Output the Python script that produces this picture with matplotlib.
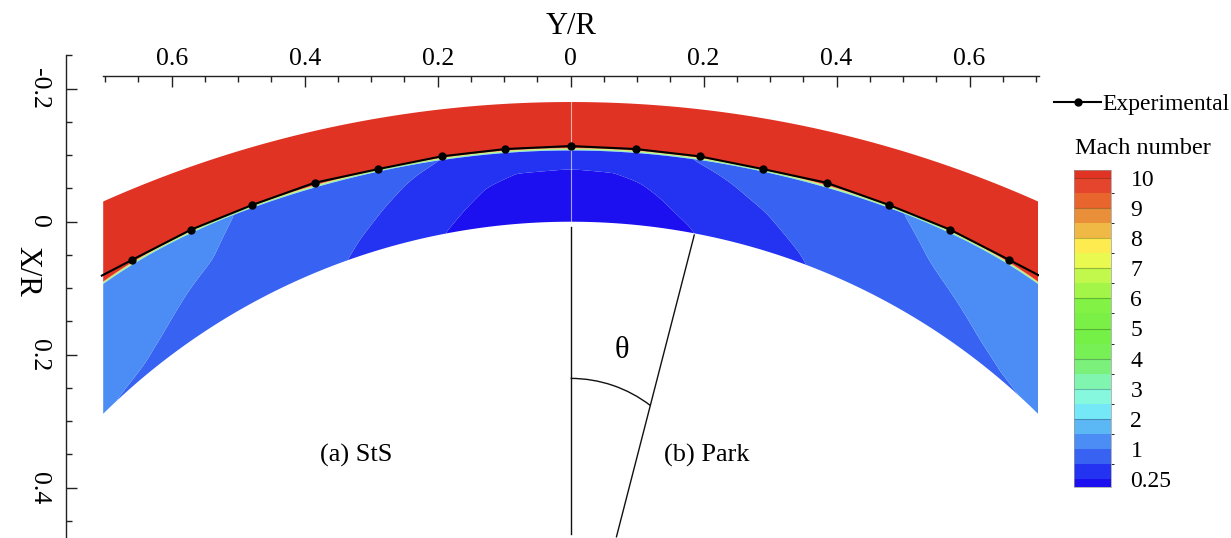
import numpy as np
import matplotlib
matplotlib.use("Agg")
import matplotlib.pyplot as plt
from matplotlib.colors import ListedColormap, BoundaryNorm
from matplotlib.patches import Arc
from matplotlib.lines import Line2D

plt.rcParams["font.family"] = ["Liberation Serif", "DejaVu Serif"]

# experimental shock stand-off (Y/R, X/R), end values are where the line meets the frame
exp_y = [-0.705, -0.660, -0.571, -0.479, -0.385, -0.289, -0.194, -0.098, 0.0,
         0.098, 0.194, 0.289, 0.385, 0.479, 0.571, 0.660, 0.705]
exp_x = [0.081, 0.0576, 0.012, -0.0251, -0.0586, -0.0792, -0.0983, -0.1093, -0.1138,
         -0.1093, -0.0983, -0.0792, -0.0586, -0.0251, 0.012, 0.0576, 0.081]

# computed shock (symmetric in Y) and outer boundary circle of the domain
shock_y = [0.0, 0.1, 0.2, 0.3, 0.4, 0.5, 0.6, 0.705]
shock_x = [-0.108, -0.103, -0.091, -0.072, -0.048, -0.013, 0.032, 0.095]
outer_center = 1.547
outer_radius = 1.727

# Mach contour lines in the shock layer: depth (0 shock -> 1 wall) vs |Y/R|
sts_c025_d = [0.25, 0.26, 0.457, 0.72, 1.0]
sts_c025_y = [0.0, 0.08, 0.131, 0.161, 0.19]
sts_c05_d = [0.0, 0.18, 0.5, 0.8, 1.0]
sts_c05_y = [0.205, 0.241, 0.282, 0.317, 0.335]
sts_c1_d = [0.0, 0.35, 0.534, 0.766, 0.913, 1.0]
sts_c1_y = [0.505, 0.538, 0.577, 0.617, 0.648, 0.70]

park_c025_d = [0.25, 0.26, 0.41, 0.57, 0.77, 0.92, 1.0]
park_c025_y = [0.0, 0.06, 0.109, 0.134, 0.159, 0.179, 0.187]
park_c05_d = [0.0, 0.19, 0.36, 0.515, 0.736, 0.887, 1.0]
park_c05_y = [0.19, 0.235, 0.265, 0.295, 0.325, 0.345, 0.355]
park_c1_d = [0.0, 0.35, 0.435, 0.62, 0.81, 0.97, 1.0]
park_c1_y = [0.50, 0.538, 0.551, 0.586, 0.62, 0.66, 0.70]

# Mach on the stagnation line, at the frame edge and in the free stream
stag_d = [0.0, 0.25, 1.0]
stag_m = [0.45, 0.25, 0.0]
edge_mach = 1.3
free_mach = 10.2

# colour levels of the legend
levels = [0.25, 0.5, 1.0, 1.5, 2.0, 2.5, 3.0, 3.5, 4.0, 4.5, 5.0,
          5.5, 6.0, 6.5, 7.0, 7.5, 8.0, 8.5, 9.0, 9.5, 10.0]
band_colors = ["#2433F2", "#3762F2", "#4B8DF5", "#5CB8F5", "#75E8F8", "#85F8DE",
               "#80F5B0", "#7BF07A", "#77F055", "#74F046", "#7AF046", "#82F244",
               "#A3F648", "#C2F74B", "#E9F94F", "#FDEB4F", "#F0B945", "#E98F3A",
               "#E8652D", "#E5452C"]
under_color = "#1C10F0"
over_color = "#E03324"
cbar_ticks = [0.25, 1, 2, 3, 4, 5, 6, 7, 8, 9, 10]
cbar_labels = ["0.25", "1", "2", "3", "4", "5", "6", "7", "8", "9", "10"]

xticks = [-0.6, -0.4, -0.2, 0.0, 0.2, 0.4, 0.6]
xtick_labels = ["0.6", "0.4", "0.2", "0", "0.2", "0.4", "0.6"]
yticks = [-0.2, 0.0, 0.2, 0.4]
ytick_labels = ["-0.2", "0", "0.2", "0.4"]


def mach_row(d, y, c025, c05, c1):
    # Mach along one row of constant depth in the shock layer
    m0 = np.interp(d, stag_d, stag_m)
    xp, fp = [0.0], [m0]
    for lev, (cd, cy) in zip([0.25, 0.5, 1.0], [c025, c05, c1]):
        if d >= cd[0] and lev > m0:
            xp.append(np.interp(d, cd, cy))
            fp.append(lev)
    xp.append(0.72)
    fp.append(edge_mach)
    return np.interp(y, xp, fp)


def smooth(a, n, axis):
    # running mean, edges padded
    pad = [(0, 0), (0, 0)]
    pad[axis] = (n // 2, n // 2)
    a = np.pad(a, pad, mode="edge")
    k = np.ones(n) / n
    return np.apply_along_axis(lambda v: np.convolve(v, k, mode="valid"), axis, a)


# build the grid: free stream rows + shock layer rows
yy = np.linspace(-0.703, 0.703, 900)
ay = np.abs(yy)
shock_fit = np.polyfit(np.array(shock_y) ** 2, shock_x, 3)
xs = np.polyval(shock_fit, ay ** 2)
xo = outer_center - np.sqrt(outer_radius ** 2 - yy ** 2)
xb = 1 - np.sqrt(1 - yy ** 2)
dd = np.linspace(0, 1, 160)

layer_x, layer_m = [], []
for d in dd:
    layer_x.append(xs + d * (xb - xs))
    m_sts = mach_row(d, ay, (sts_c025_d, sts_c025_y), (sts_c05_d, sts_c05_y), (sts_c1_d, sts_c1_y))
    m_park = mach_row(d, ay, (park_c025_d, park_c025_y), (park_c05_d, park_c05_y), (park_c1_d, park_c1_y))
    layer_m.append(np.where(yy < 0, m_sts, m_park))
layer_m = smooth(smooth(np.array(layer_m), 25, 1), 15, 0)

gx = np.vstack([xo, xs - 0.004, np.array(layer_x)])
gm = np.vstack([np.full_like(yy, free_mach), np.full_like(yy, free_mach), layer_m])
gy = np.tile(yy, (len(gx), 1))

cmap = ListedColormap(band_colors).with_extremes(under=under_color, over=over_color)
norm = BoundaryNorm(levels, len(band_colors))

fig = plt.figure(figsize=(12.31, 5.38), dpi=100)
ax = fig.add_axes([65.7 / 1231, 0, (1039 - 65.7) / 1231, (538 - 54.8) / 538])

cs = ax.contourf(gy, gx, gm, levels=levels, cmap=cmap, norm=norm, extend="both", antialiased=True)
ax.plot([0, 0], [outer_center - outer_radius, 0.0], color="white", lw=0.8, alpha=0.6)

# experimental data
ax.plot(exp_y, exp_x, color="black", lw=1.5, marker="o", ms=5, markevery=list(range(1, len(exp_y) - 1)))

# angle sketch
ax.plot([0.0, 0.0], [0.008, 0.47], color="#111111", lw=1.0, clip_on=False)
ax.plot([0.186, 0.069], [0.020, 0.4737], color="#111111", lw=1.0, clip_on=False)
ax.add_patch(Arc((0.0, 0.4326), 0.394, 0.394, theta1=-90, theta2=-52.5, color="#111111", lw=1.0))
ax.text(0.0767, 0.193, "θ", fontsize=22, ha="center", va="center")
ax.text(-0.3229, 0.351, "(a) StS", fontsize=19, ha="center", va="center")
ax.text(0.205, 0.351, "(b) Park", fontsize=19, ha="center", va="center")

ax.set_xlim(-0.7594, 0.7045)
ax.set_ylim(0.4756, -0.251)

# axes: top Y/R and left X/R
for s in ["bottom", "right"]:
    ax.spines[s].set_visible(False)
ax.spines["top"].set_position(("data", -0.2195))
ax.spines["top"].set_bounds(-0.703, 0.704)
ax.spines["left"].set_bounds(0.4756, -0.25)
for s in ["top", "left"]:
    ax.spines[s].set_linewidth(1.0)
    ax.spines[s].set_color("#222222")

ax.xaxis.tick_top()
ax.set_xticks(xticks)
ax.set_xticklabels(xtick_labels, fontsize=18.5)
ax.set_xticks(np.arange(-0.70, 0.701, 0.05), minor=True)
ax.set_yticks(yticks)
ax.set_yticklabels(ytick_labels, fontsize=18.5, rotation=270, va="center")
ax.set_yticks(np.arange(-0.25, 0.451, 0.05), minor=True)
ax.tick_params(which="major", direction="in", length=8, width=1.0, color="#222222")
ax.tick_params(which="minor", direction="in", length=4.3, width=1.0, color="#222222")
ax.tick_params(axis="x", which="major", pad=4)
ax.tick_params(axis="y", which="major", pad=11)

ax.text(0.0, -0.293, "Y/R", fontsize=22, ha="center", va="center", clip_on=False)
ax.text(-0.818, 0.075, "X/R", fontsize=22, rotation=270, ha="center", va="center", clip_on=False)

# legend and colour bar
handle = Line2D([], [], color="black", lw=1.5, marker="o", ms=5)
fig.legend([handle], ["Experimental"], loc="center left", bbox_to_anchor=(1054 / 1231, 1 - 104 / 538),
           frameon=False, fontsize=17, handlelength=2.0, handletextpad=0.05, borderpad=0, borderaxespad=0)

cax = fig.add_axes([1074 / 1231, (538 - 487) / 538, 37 / 1231, 317 / 538])
cb = fig.colorbar(cs, cax=cax, extend="both", extendrect=True, extendfrac=0.0283, spacing="uniform")
cb.set_ticks(cbar_ticks)
cb.set_ticklabels(cbar_labels)
cb.ax.tick_params(length=0, pad=14, labelsize=17)
cb.outline.set_linewidth(0.5)
cb.outline.set_edgecolor("#999999")
for lev in range(2, 11):
    cb.ax.axhline(lev, color="black", alpha=0.25, lw=0.8)
fig.text(1143 / 1231, 1 - 148 / 538, "Mach number", fontsize=17.5, ha="center", va="center")

fig.savefig("out.png", dpi=100)
